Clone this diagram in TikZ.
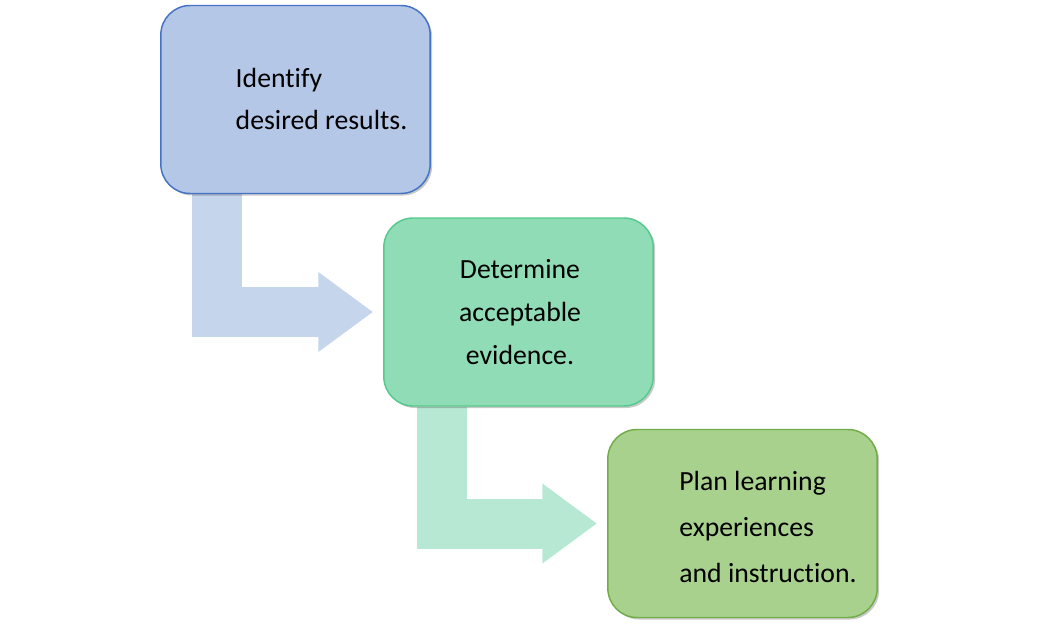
\documentclass[tikz,border=0pt]{standalone}
\usepackage{fontspec}
\setmainfont{Carlito}[Ligatures=NoCommon]
\usepackage{tikz}
\usetikzlibrary{positioning, arrows.meta, shadows, backgrounds}

\definecolor{goalfill}{HTML}{B4C7E7}
\definecolor{goaldraw}{HTML}{4472C4}
\definecolor{evidfill}{HTML}{90DCB7}
\definecolor{eviddraw}{HTML}{55CA8C}
\definecolor{planfill}{HTML}{A9D18E}
\definecolor{plandraw}{HTML}{70AD47}
\definecolor{goalarrow}{HTML}{C5D5EB}
\definecolor{evidarrow}{HTML}{B7E8D3}

\begin{document}
\begin{tikzpicture}[x=0.75pt, y=-0.75pt,
    block/.style={draw, line width=1.1pt, rounded corners=22pt,
                  minimum width=202pt, minimum height=141pt,
                  drop shadow={shadow xshift=1.5pt, shadow yshift=-1.5pt,
                               opacity=0.3, fill=black!70}},
    txt/.style={inner sep=0pt, font=\fontsize{20.8}{32}\selectfont},
    arrow/.style={line width=37.5pt, line join=miter, shorten >=7.5pt,
                  -{Triangle[length=41pt, width=57pt]}},
]
\useasboundingbox (0,0) rectangle (1040,632);

% --- Step 1 ---
\node[block, fill=goalfill, draw=goaldraw] (goal) at (295.5, 99.5) {};
\node[txt, align=left] (goaltxt) at (321.5, 99) {Identify\\desired results.};

% --- Step 2 ---
\node[block, fill=evidfill, draw=eviddraw] (evid) at (518.5, 312) {};
\node[txt, align=center] (evidtxt) at (520, 312) {Determine\\acceptable\\evidence.};

% --- Step 3 ---
\node[block, fill=planfill, draw=plandraw] (plan) at (742.5, 523.5) {};
\node[txt, align=left, font=\fontsize{20.8}{34.5}\selectfont] (plantxt) at (768, 527)
    {Plan learning\\experiences\\and instruction.};

% --- Bent arrows ---
\begin{scope}[on background layer]
\draw[arrow, goalarrow] ([xshift=42.75pt]goal.south west) |- (evid.west);
\draw[arrow, evidarrow] ([xshift=44.25pt]evid.south west) |- (plan.west);
\end{scope}
\end{tikzpicture}
\end{document}
